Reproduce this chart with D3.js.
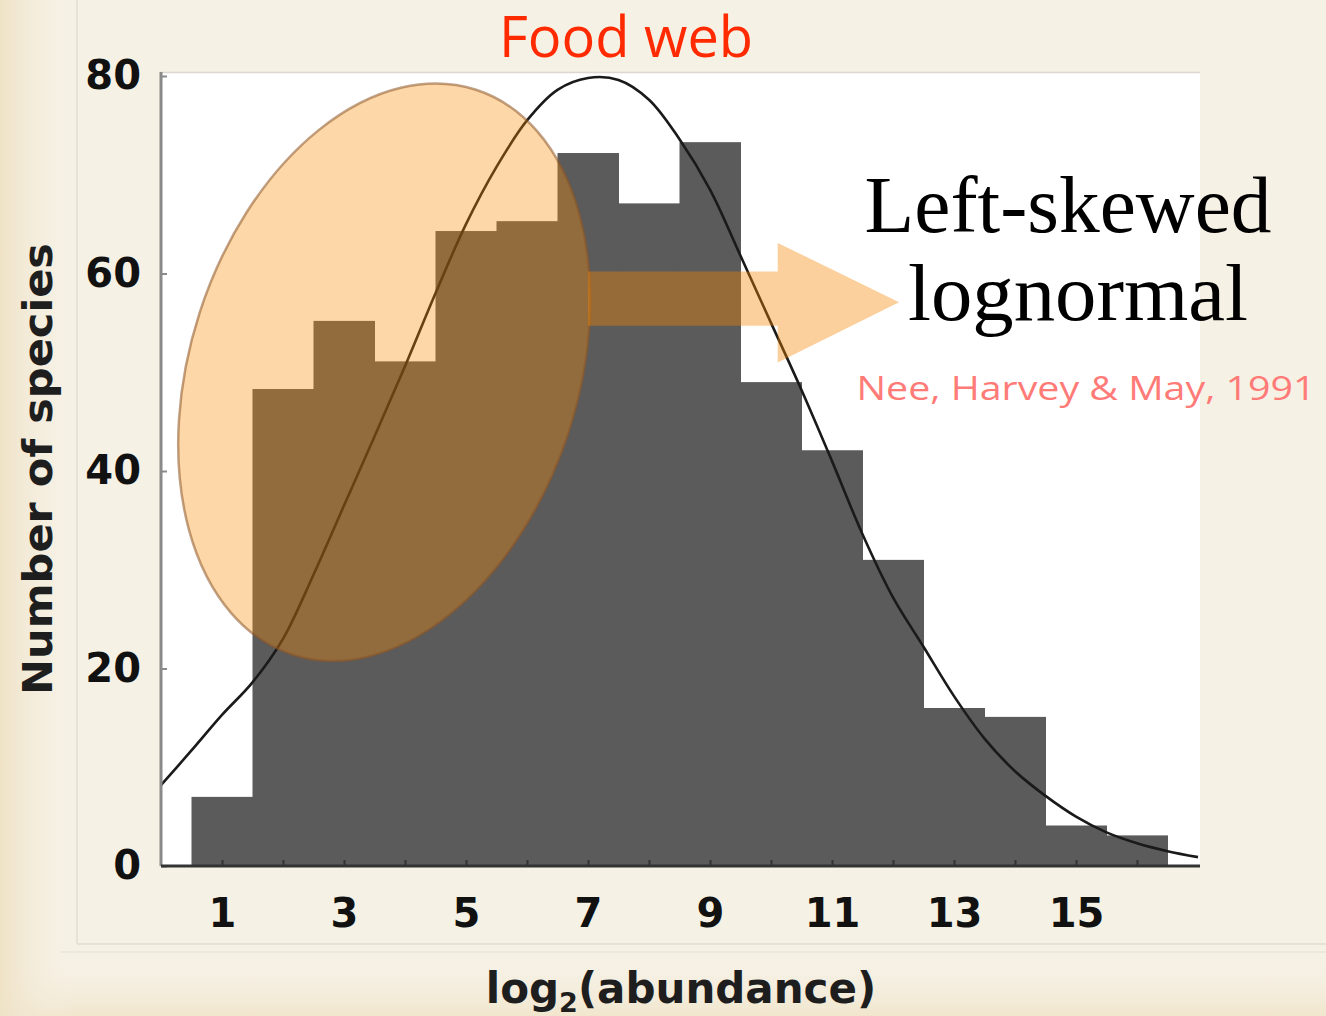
<!DOCTYPE html>
<html>
<head>
<meta charset="utf-8">
<script src="https://cdn.jsdelivr.net/npm/d3@7"></script>
<style>
  html, body { margin: 0; padding: 0; background: #f6f1e5; }
  svg { display: block; }
  .tick text { font-family: "DejaVu Sans", Verdana, sans-serif; font-weight: bold; fill: #111; }
</style>
</head>
<body>
<div id="chart"></div>
<script>
// histogram bins, log2(abundance) classes 1..16
var bins   = [1, 2, 3, 4, 5, 6, 7, 8, 9, 10, 11, 12, 13, 14, 15, 16];
var counts = [7, 48.3, 55.2, 51.1, 64.3, 65.3, 72.2, 67.1, 73.3, 49, 42.1, 31, 16, 15.1, 4.1, 3.1];

// fitted curve
var curveX = [0, 0.5, 1, 1.5, 2, 2.5, 3, 3.5, 4, 4.5, 5, 5.5, 6, 6.5, 7, 7.5, 8, 8.5,
              9, 9.5, 10, 10.5, 11, 11.5, 12, 12.5, 13, 13.5, 14, 14.5, 15, 15.5, 16, 16.5, 17];
var curveY = [8.2, 11.7, 15.3, 18.6, 23, 29.5, 36.5, 43.5, 50.6, 58, 65, 70.8, 75.5, 78.6, 79.8, 79.6, 77.6, 73.6,
              68.5, 61.8, 55, 48.2, 41, 33.6, 27.2, 22.2, 17.2, 12.9, 9.6, 7.1, 5, 3.4, 2.3, 1.5, 0.9];

var yTicks = [0, 20, 40, 60, 80];
var xTicks = [1, 2, 3, 4, 5, 6, 7, 8, 9, 10, 11, 12, 13, 14, 15, 16];

var W = 1326, H = 1016;
var svg = d3.select("#chart").append("svg").attr("width", W).attr("height", H);
var defs = svg.append("defs");

var lg = defs.append("linearGradient").attr("id", "leftEdge").attr("x1", 0).attr("x2", 1);
lg.append("stop").attr("offset", 0).attr("stop-color", "#efe2c6");
lg.append("stop").attr("offset", 1).attr("stop-color", "#f6f1e5").attr("stop-opacity", 0);
var bg = defs.append("linearGradient").attr("id", "botEdge").attr("x1", 0).attr("x2", 0).attr("y1", 0).attr("y2", 1);
bg.append("stop").attr("offset", 0).attr("stop-color", "#f6f1e5").attr("stop-opacity", 0);
bg.append("stop").attr("offset", 1).attr("stop-color", "#f1e6cd");

svg.append("rect").attr("width", W).attr("height", H).attr("fill", "#f6f1e5");
svg.append("rect").attr("x", 0).attr("y", 955).attr("width", W).attr("height", 61).attr("fill", "url(#botEdge)");
svg.append("rect").attr("x", 0).attr("y", 0).attr("width", 75).attr("height", H).attr("fill", "url(#leftEdge)");

// faint frame of the pasted figure
svg.append("line").attr("x1", 77).attr("x2", 77).attr("y1", 0).attr("y2", 944)
  .attr("stroke", "#e6e2d6").attr("stroke-width", 2);
svg.append("line").attr("x1", 77).attr("x2", W).attr("y1", 944).attr("y2", 944)
  .attr("stroke", "#e6e2d6").attr("stroke-width", 2);
svg.append("line").attr("x1", 60).attr("x2", W).attr("y1", 952).attr("y2", 952)
  .attr("stroke", "#ece8dc").attr("stroke-width", 2);

var x = d3.scaleLinear().domain([0, 17]).range([161, 1198]);
var y = d3.scaleLinear().domain([0, 80]).range([866, 76]);

// white plot area
svg.append("rect").attr("x", 161).attr("y", 72).attr("width", 1200 - 161).attr("height", 866 - 72)
  .attr("fill", "#fff");
svg.append("line").attr("x1", 161).attr("x2", 1200).attr("y1", 72.5).attr("y2", 72.5)
  .attr("stroke", "#dcd8cf").attr("stroke-width", 1.5);

// bars
svg.append("g").selectAll("rect").data(bins).join("rect")
  .attr("x", function (d) { return x(d - 0.5); })
  .attr("width", function (d) { return x(d + 0.5) - x(d - 0.5) + 0.5; })
  .attr("y", function (d, i) { return y(counts[i]); })
  .attr("height", function (d, i) { return y(0) - y(counts[i]); })
  .attr("fill", "#5b5b5b");

// curve
var line = d3.line()
  .x(function (d, i) { return x(curveX[i]); })
  .y(function (d) { return y(d); })
  .curve(d3.curveCatmullRom);
svg.append("path").datum(curveY).attr("d", line)
  .attr("fill", "none").attr("stroke", "#1a1a1a").attr("stroke-width", 2.6);

// axes
var yAxis = d3.axisLeft(y).tickValues(yTicks).tickSizeInner(-6).tickSizeOuter(0).tickPadding(20);
var gy = svg.append("g").attr("transform", "translate(161,0)").call(yAxis);
gy.select(".domain").attr("stroke", "#8a8a8a").attr("stroke-width", 3).attr("d", "M0,72V866");
gy.selectAll(".tick line").attr("stroke", "#8a8a8a").attr("stroke-width", 2);
gy.selectAll(".tick text").attr("font-size", 40);

var xAxis = d3.axisBottom(x).tickValues(xTicks).tickSizeInner(-6).tickSizeOuter(0).tickPadding(33)
  .tickFormat(function (d) { return d % 2 ? d : ""; });
var gx = svg.append("g").attr("transform", "translate(0,866)").call(xAxis);
gx.select(".domain").attr("stroke", "#333").attr("stroke-width", 3).attr("d", "M161,0H1200");
gx.selectAll(".tick line").attr("stroke", "#333").attr("stroke-width", 2);
gx.selectAll(".tick text").attr("font-size", 40);

// axis titles
svg.append("text")
  .attr("transform", "translate(52,469) rotate(-90)")
  .attr("text-anchor", "middle")
  .attr("font-family", "DejaVu Sans, Verdana, sans-serif").attr("font-weight", "bold")
  .attr("font-size", 40).attr("fill", "#1e1e1e")
  .attr("textLength", 452).attr("lengthAdjust", "spacingAndGlyphs")
  .text("Number of species");

var xt = svg.append("text")
  .attr("x", 681).attr("y", 1003)
  .attr("text-anchor", "middle")
  .attr("font-family", "DejaVu Sans, Verdana, sans-serif").attr("font-weight", "bold")
  .attr("font-size", 42).attr("fill", "#1e1e1e");
xt.append("tspan").text("log");
xt.append("tspan").attr("font-size", 27).attr("dy", 9).text("2");
xt.append("tspan").attr("dy", -9).text("(abundance)");

// highlight ellipse and arrow
svg.append("ellipse")
  .attr("cx", x(3.66)).attr("cy", y(50)).attr("rx", 194).attr("ry", 297)
  .attr("transform", "rotate(18," + x(3.66) + "," + y(50) + ")")
  .attr("fill", "rgb(249,140,2)").attr("fill-opacity", 0.35)
  .attr("stroke", "rgb(140,85,40)").attr("stroke-opacity", 0.55).attr("stroke-width", 2.5);

var ax0 = x(7.0), ax1 = x(10.11), tip = x(12.1);
var arrow = [[ax0, y(60.2)], [ax1, y(60.2)], [ax1, y(63.1)], [tip, y(57.1)],
             [ax1, y(51.0)], [ax1, y(54.7)], [ax0, y(54.7)]];
svg.append("path").attr("d", "M" + arrow.join("L") + "Z")
  .attr("fill", "rgb(247,135,0)").attr("fill-opacity", 0.39);

// texts
svg.append("text").attr("x", 626).attr("y", 57).attr("text-anchor", "middle")
  .attr("font-family", "Open Sans, sans-serif").attr("font-size", 56).attr("fill", "#ff2a00")
  .text("Food web");

svg.append("text").attr("x", 1068).attr("y", 232).attr("text-anchor", "middle")
  .attr("font-family", "Liberation Serif, serif").attr("font-size", 80).attr("fill", "#000")
  .attr("textLength", 407).attr("lengthAdjust", "spacingAndGlyphs")
  .text("Left-skewed");
svg.append("text").attr("x", 1078).attr("y", 320).attr("text-anchor", "middle")
  .attr("font-family", "Liberation Serif, serif").attr("font-size", 80).attr("fill", "#000")
  .attr("textLength", 340).attr("lengthAdjust", "spacingAndGlyphs")
  .text("lognormal");

svg.append("text").attr("x", 1086).attr("y", 400).attr("text-anchor", "middle")
  .attr("font-family", "Open Sans, sans-serif").attr("font-size", 33).attr("fill", "#ff7b78")
  .attr("textLength", 459).attr("lengthAdjust", "spacingAndGlyphs")
  .text("Nee, Harvey & May, 1991");
</script>
</body>
</html>
